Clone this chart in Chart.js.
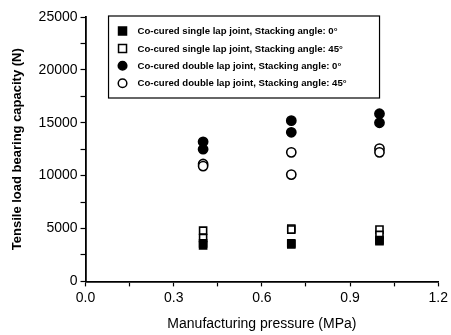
<!DOCTYPE html>
<html>
<head>
<meta charset="utf-8">
<script src="https://cdn.jsdelivr.net/npm/chart.js@4/dist/chart.umd.min.js"></script>
<style>
    html, body { margin: 0; padding: 0; background: #fff; }
    #wrap { width: 451px; height: 335px; position: relative; }
</style>
</head>
<body>
<div id="wrap"><canvas id="chart"></canvas></div>
<script>
// values
const pressures = [0.4, 0.7, 1.0];

const singleLap0 = [[0.4, 3400], [0.4, 3600], [0.7, 3500], [0.7, 3600], [1.0, 3800], [1.0, 3900]];
const singleLap45 = [[0.4, 4800], [0.4, 4100], [0.7, 5000], [0.7, 4900], [1.0, 4900], [1.0, 4400]];
const doubleLap0 = [[0.4, 13200], [0.4, 12500], [0.7, 15200], [0.7, 14100], [1.0, 15850], [1.0, 15000]];
const doubleLap45 = [[0.4, 11100], [0.4, 10900], [0.7, 12200], [0.7, 10100], [1.0, 12550], [1.0, 12200]];

const seriesLabels = [
    "Co-cured single lap joint, Stacking angle: 0\u00b0",
    "Co-cured single lap joint, Stacking angle: 45\u00b0",
    "Co-cured double lap joint, Stacking angle: 0\u00b0",
    "Co-cured double lap joint, Stacking angle: 45\u00b0",
];

const xTicks = [0.0, 0.3, 0.6, 0.9, 1.2];
const yTicks = [0, 5000, 10000, 15000, 20000, 25000];

const FONT = "'Liberation Sans', Arial, sans-serif";

function toPoints(pairs) {
    return pairs.map((p) => ({ x: p[0], y: p[1] }));
}

function makeDataset(label, pairs, style, filled) {
    return {
        label: label,
        data: toPoints(pairs),
        pointStyle: style,
        pointRadius: style === "rect" ? 5 : 4.6,
        pointBorderWidth: 1.6,
        pointBorderColor: "#000",
        pointBackgroundColor: filled ? "#000" : "#fff",
        showLine: false,
    };
}

// legend box drawn inside the plot area like the original
const boxLegend = {
    id: "boxLegend",
    afterDatasetsDraw(chart) {
        const ctx = chart.ctx;
        const area = chart.chartArea;
        const x0 = area.left + 23;
        const y0 = area.top - 1;
        const w = 271;
        const h = 82;
        ctx.save();
        ctx.fillStyle = "#fff";
        ctx.fillRect(x0, y0, w, h);
        ctx.strokeStyle = "#000";
        ctx.lineWidth = 1.2;
        ctx.strokeRect(x0, y0, w, h);
        ctx.font = "bold 9.6px " + FONT;
        ctx.textBaseline = "middle";
        chart.data.datasets.forEach((ds, i) => {
            const cy = y0 + 15 + i * 17.4;
            const cx = x0 + 14;
            ctx.lineWidth = 1.5;
            ctx.strokeStyle = "#000";
            ctx.fillStyle = ds.pointBackgroundColor;
            ctx.beginPath();
            if (ds.pointStyle === "rect") {
                ctx.rect(cx - 4, cy - 4, 8, 8);
            } else {
                ctx.arc(cx, cy, 4.3, 0, Math.PI * 2);
            }
            ctx.fill();
            ctx.stroke();
            ctx.fillStyle = "#000";
            ctx.fillText(ds.label, x0 + 29, cy + 0.5);
        });
        ctx.restore();
    },
};

new Chart(document.getElementById("chart"), {
    type: "scatter",
    data: {
        datasets: [
            makeDataset(seriesLabels[0], singleLap0, "rect", true),
            makeDataset(seriesLabels[1], singleLap45, "rect", false),
            makeDataset(seriesLabels[2], doubleLap0, "circle", true),
            makeDataset(seriesLabels[3], doubleLap45, "circle", false),
        ],
    },
    options: {
        responsive: true,
        maintainAspectRatio: false,
        animation: false,
        layout: { padding: { top: 17, right: 5, left: 10, bottom: 2 } },
        plugins: {
            legend: { display: false },
            tooltip: { enabled: false },
        },
        scales: {
            x: {
                type: "linear",
                min: xTicks[0],
                max: xTicks[xTicks.length - 1],
                ticks: {
                    stepSize: 0.15,
                    color: "#000",
                    font: { family: FONT, size: 14 },
                    padding: 3,
                    maxRotation: 0,
                    callback: function (v) {
                        const major = xTicks.find((t) => Math.abs(t - v) < 1e-6);
                        return major === undefined ? "" : major.toFixed(1);
                    },
                },
                grid: {
                    drawOnChartArea: false,
                    drawTicks: true,
                    tickLength: 5,
                    tickColor: "#000",
                    tickWidth: 1.2,
                },
                border: { color: "#000", width: 1.8 },
                title: {
                    display: true,
                    text: "Manufacturing pressure (MPa)",
                    color: "#000",
                    font: { family: FONT, size: 14 },
                    padding: { top: 7, bottom: 0 },
                },
            },
            y: {
                type: "linear",
                min: yTicks[0],
                max: yTicks[yTicks.length - 1],
                ticks: {
                    stepSize: 2500,
                    color: "#000",
                    font: { family: FONT, size: 14 },
                    padding: 3,
                    callback: function (v) {
                        return yTicks.includes(v) ? String(v) : "";
                    },
                },
                grid: {
                    drawOnChartArea: false,
                    drawTicks: true,
                    tickLength: 5,
                    tickColor: "#000",
                    tickWidth: 1.2,
                },
                border: { color: "#000", width: 1.8 },
                title: {
                    display: true,
                    text: "Tensile load bearing capacity (N)",
                    color: "#000",
                    font: { family: FONT, size: 13, weight: "bold" },
                    padding: { top: 0, bottom: 10 },
                },
            },
        },
    },
    plugins: [boxLegend],
});
</script>
</body>
</html>
